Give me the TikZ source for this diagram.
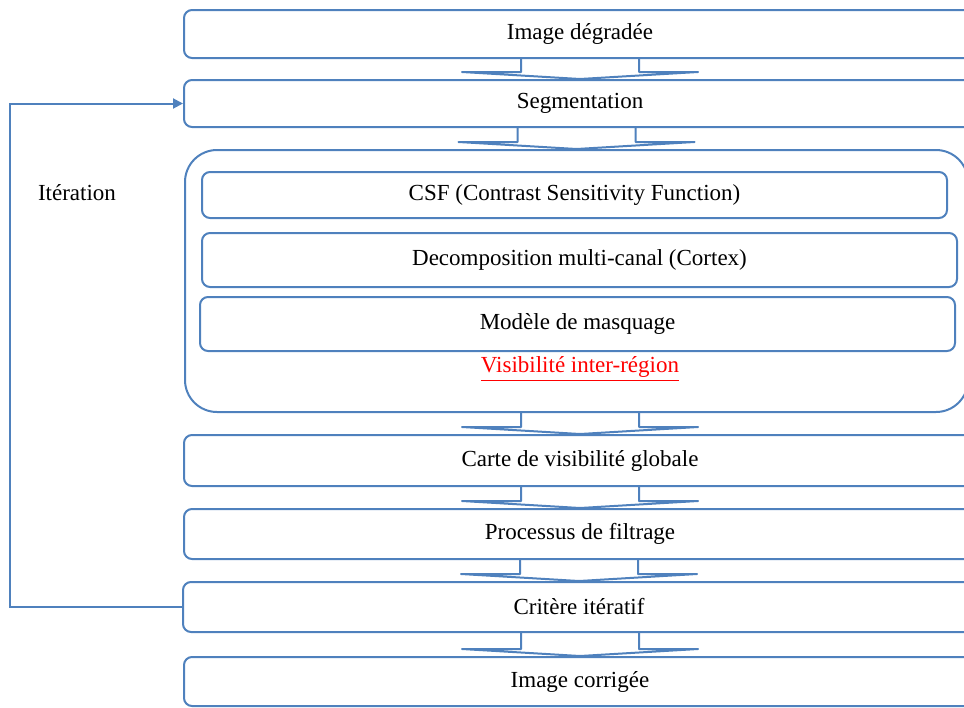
\documentclass[tikz,border=0pt]{standalone}
\usepackage{fontspec}
\setmainfont{Liberation Serif}
\usepackage{xcolor}
\usetikzlibrary{arrows.meta,positioning,calc}
\definecolor{boxblue}{HTML}{4F81BD}
\definecolor{visred}{HTML}{FF0000}

\tikzset{
  stagebox/.style={draw=boxblue, line width=1pt, rounded corners=4pt, minimum width=396pt, minimum height=24pt, inner sep=0pt},
  innerbox/.style={draw=boxblue, line width=1pt, rounded corners=4pt, minimum width=377.5pt, minimum height=27pt, inner sep=0pt},
  flowarrow/.style={draw=boxblue, line width=1pt, line join=round},
  feedback/.style={draw=boxblue, line width=1pt, -{Triangle[length=5pt,width=5pt]}}
}

% wide flat block arrow between two stages
\newcommand{\stagearrow}[2]{%
  \draw[flowarrow] ($(#1.south -| #2.north)+(-29.5pt,0)$) -- ($(#2.north)+(-29.5pt,3.5pt)$)
    -- ++(-29.5pt,0) -- (#2.north) -- ($(#2.north)+(59pt,3.5pt)$) -- ++(-29.5pt,0)
    -- ($(#1.south -| #2.north)+(29.5pt,0)$);%
}

\begin{document}
\begin{tikzpicture}[x=0.5pt, y=-0.5pt, font=\fontsize{11.5}{13}\selectfont]
  \useasboundingbox (0,0) rectangle (964,707);
  \clip (0,0) rectangle (964,707);

  % Stages
  \node[stagebox] (imgdeg) at (580,34) {Image dégradée};
  \node[stagebox, minimum height=23.5pt] (seg) at (580,103.5) {Segmentation};

  % Visibility model
  \node[draw=boxblue, line width=1pt, rounded corners=16pt, minimum width=391.5pt, minimum height=131pt] (hvs) at (576.5,281) {};
  \node[innerbox, minimum width=372.5pt, minimum height=23pt] (csf) at (574.5,195) {CSF (Contrast Sensitivity Function)};
  \node[innerbox] (decomp) at (579.5,260) {Decomposition multi-canal (Cortex)};
  \node[innerbox] (masq) at (577.5,324) {Modèle de masquage};
  \node[text=visred] (inter) at (580,369) {\underline{Visibilité inter-région}};

  \node[stagebox, minimum height=25.5pt] (carte) at (580,460.5) {Carte de visibilité globale};
  \node[stagebox, minimum height=25pt] (filtrage) at (580,534) {Processus de filtrage};
  \node[stagebox, minimum height=25pt] (critere) at (579,607) {Critère itératif};
  \node[stagebox, minimum height=24.5pt] (imgcorr) at (580,681.5) {Image corrigée};

  % Block arrows
  \stagearrow{imgdeg}{seg}
  \stagearrow{seg}{hvs}
  \stagearrow{hvs}{carte}
  \stagearrow{carte}{filtrage}
  \stagearrow{filtrage}{critere}
  \stagearrow{critere}{imgcorr}

  % Iteration loop
  \coordinate (loopx) at (10,0);
  \draw[feedback] (critere.west) -- (critere.west -| loopx) |- (seg.west);
  \node (iter) at (77,193) {Itération};
\end{tikzpicture}
\end{document}
